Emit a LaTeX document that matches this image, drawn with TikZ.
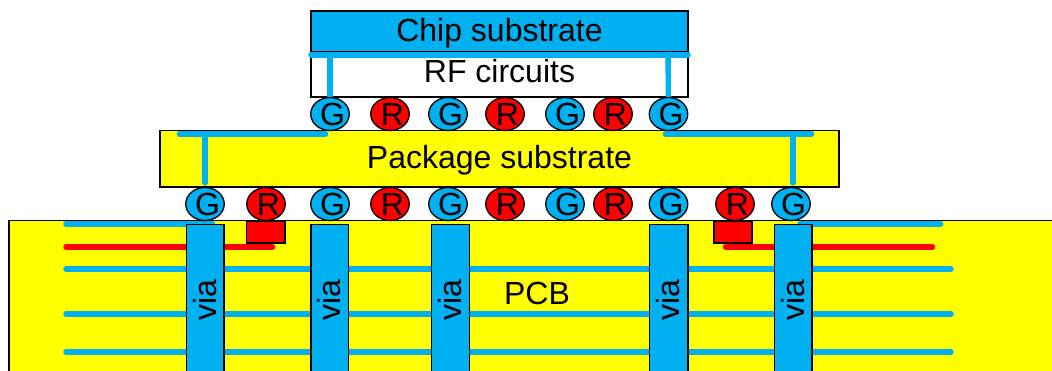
\documentclass[tikz,border=0pt]{standalone}
\usepackage{fontspec}
\setmainfont{Liberation Sans}
\usetikzlibrary{shapes.geometric}
\definecolor{gndblue}{HTML}{00B0F0}
\definecolor{fr4yellow}{RGB}{255,255,0}
\definecolor{sigred}{RGB}{255,0,0}
\tikzset{
  box/.style={draw=black,line width=1.3pt},
  label/.style={anchor=base,inner sep=0pt,font=\fontsize{32}{34}\selectfont},
  vialabel/.style={label,rotate=90},
  ball/.style={ellipse,draw=black,line width=1.3pt,minimum width=38.5pt,minimum height=33pt,inner sep=-3pt,font=\fontsize{32}{34}\selectfont,execute at begin node={\hskip 5pt}},
  gball/.style={ball,fill=gndblue},
  rball/.style={ball,fill=sigred},
  gtrace/.style={gndblue,line width=5.5pt,line cap=round},
  rtrace/.style={sigred,line width=5.5pt,line cap=round}
}
\begin{document}
\begin{tikzpicture}[x=1pt,y=-1pt]
\useasboundingbox (0,0) rectangle (1052,370);
\clip (0,0) rectangle (1052,370);
% board and its planes
\draw[box,fill=fr4yellow] (9,220.5) rectangle (1070,390);
\coordinate (gndla) at (66,224);   \coordinate (gndlb) at (212.5,224);
\coordinate (gndra) at (800,224);  \coordinate (gndrb) at (940.5,224);
\coordinate (sigla) at (66,247);   \coordinate (siglb) at (272.5,247);
\coordinate (sigra) at (725.5,247);  \coordinate (sigrb) at (932.5,247);
\coordinate (plaa) at (66,269);    \coordinate (plab) at (951,269);
\coordinate (plba) at (66,314);    \coordinate (plbb) at (951,314);
\coordinate (plca) at (66,352);    \coordinate (plcb) at (951,352);
\draw[gtrace] (gndla) -- (gndlb);
\draw[gtrace] (gndra) -- (gndrb);
\draw[rtrace] (sigla) -- (siglb);
\draw[rtrace] (sigra) -- (sigrb);
\draw[gtrace] (plaa) -- (plab);
\draw[gtrace] (plba) -- (plbb);
\draw[gtrace] (plca) -- (plcb);
\draw[box,fill=sigred] (246.5,221) rectangle (285,243);
\draw[box,fill=sigred] (714,221) rectangle (752,243);
% vias
\draw[box,fill=gndblue] (186.5,224.5) rectangle (224,390);
\draw[box,fill=gndblue] (311,224.5) rectangle (348.5,390);
\draw[box,fill=gndblue] (431.5,224.5) rectangle (469.5,390);
\draw[box,fill=gndblue] (649.5,224.5) rectangle (688,390);
\draw[box,fill=gndblue] (774.5,224.5) rectangle (812,390);
\node[vialabel] (viaa) at (216,300) {via};
\node[vialabel] (viab) at (340.5,300) {via};
\node[vialabel] (viac) at (461.5,300) {via};
\node[vialabel] (viad) at (679.5,300) {via};
\node[vialabel] (viae) at (804,300) {via};
\node[label] (pcb) at (537,304) {PCB};
% package
\draw[box,fill=fr4yellow] (160,130.5) rectangle (839,187);
\node[label] (pkg) at (499.5,168) {Package substrate};
\coordinate (pkgla) at (179.5,134);  \coordinate (pkglb) at (325.5,134);
\coordinate (pkgra) at (665.5,134);  \coordinate (pkgrb) at (811.5,134);
\coordinate (pkgl) at (205,134);   \coordinate (pkgr) at (793,134);
% chip
\draw[box,fill=gndblue] (311,11) rectangle (688,52);
\draw[box,fill=white] (311,52) rectangle (688,97);
\node[label] (chip) at (499.5,41) {Chip substrate};
\node[label] (rf) at (499.5,82) {RF circuits};
\coordinate (chipa) at (311,55);   \coordinate (chipb) at (688,55);
\coordinate (chipl) at (330,52);   \coordinate (chipr) at (668,52);
% bumps
\node[gball] (gta) at (330,114) {G};
\node[rball] (rta) at (390,114) {R};
\node[gball] (gtb) at (448,114) {G};
\node[rball] (rtb) at (505,114) {R};
\node[gball] (gtc) at (565,114) {G};
\node[rball] (rtc) at (613,114) {R};
\node[gball] (gtd) at (668.5,114) {G};
\node[gball] (gba) at (205,204) {G};
\node[rball] (rba) at (266,204) {R};
\node[gball] (gbb) at (330,204) {G};
\node[rball] (rbb) at (390,204) {R};
\node[gball] (gbc) at (448,204) {G};
\node[rball] (rbc) at (505,204) {R};
\node[gball] (gbd) at (565,204) {G};
\node[rball] (rbd) at (613,204) {R};
\node[gball] (gbe) at (668.5,204) {G};
\node[rball] (rbe) at (735,204) {R};
\node[gball] (gbf) at (791,204) {G};
% ground connections
\draw[gtrace] (chipa) -- (chipb);
\draw[gtrace,line cap=butt] (chipl) -- (gta.north);
\draw[gtrace,line cap=butt] (chipr) -- (gtd.north);
\draw[gtrace] (pkgla) -- (pkglb);
\draw[gtrace] (pkgra) -- (pkgrb);
\draw[gtrace,shorten >=4pt] (pkgl) -- (gba.north);
\draw[gtrace,shorten >=4pt] (pkgr) -- (pkgr |- gbf.north);
\end{tikzpicture}
\end{document}
